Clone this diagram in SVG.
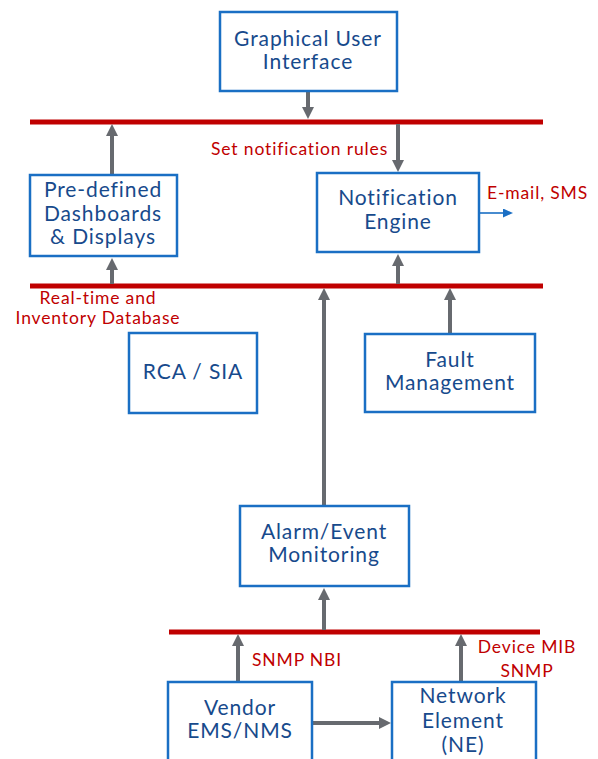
<svg xmlns="http://www.w3.org/2000/svg" width="598" height="759" viewBox="0 0 598 759">
  <style>
    .box { fill: #ffffff; stroke: #1a6fc4; stroke-width: 2.5; }
    .lbl { font-family: Lato, "Noto Sans", sans-serif; font-size: 21px; letter-spacing: 0.9px; fill: #174a8c; text-anchor: middle; }
    .note { font-family: Lato, "Noto Sans", sans-serif; font-size: 17.5px; letter-spacing: 0.85px; fill: #c00000; }
    .bus { stroke: #c00000; stroke-width: 5; }
    .flow { stroke: #676a6f; stroke-width: 4; fill: none; marker-end: url(#grayHead); }
    .out { stroke: #1a6fc4; stroke-width: 1.6; fill: none; marker-end: url(#blueHead); }
  </style>
  <defs>
    <marker id="grayHead" markerUnits="userSpaceOnUse" viewBox="0 0 12 12" markerWidth="12" markerHeight="12" refX="2" refY="6" orient="auto">
      <path d="M0,0 L12,6 L0,12 z" fill="#676a6f"/>
    </marker>
    <marker id="blueHead" markerUnits="userSpaceOnUse" viewBox="0 0 10 9" markerWidth="10" markerHeight="9" refX="1" refY="4.5" orient="auto">
      <path d="M0,0 L10,4.5 L0,9 z" fill="#1a6fc4"/>
    </marker>
  </defs>

  <!-- bus lines -->
  <g id="buses">
    <line class="bus" x1="30" y1="122" x2="543" y2="122"/>
    <line class="bus" x1="30" y1="286" x2="543" y2="286"/>
    <line class="bus" x1="169" y1="632" x2="540" y2="632"/>
  </g>

  <!-- connectors -->
  <g id="connectors">
    <path class="flow" d="M308,91 V109"/>
    <path class="flow" d="M398,124 V162"/>
    <path class="flow" d="M112,175 V134"/>
    <path class="flow" d="M112,284 V268"/>
    <path class="flow" d="M398,284 V264"/>
    <path class="flow" d="M324,506 V298"/>
    <path class="flow" d="M450,334 V298"/>
    <path class="flow" d="M324,630 V598"/>
    <path class="flow" d="M238,682 V644"/>
    <path class="flow" d="M461,682 V644"/>
    <path class="flow" d="M312,723 H381"/>
    <path class="out" d="M479,213 H504"/>
  </g>

  <!-- nodes -->
  <g id="gui">
    <rect class="box" x="220" y="12" width="177" height="79"/>
    <text class="lbl" x="308" y="46">Graphical User</text>
    <text class="lbl" x="308" y="69">Interface</text>
  </g>
  <g id="dashboards">
    <rect class="box" x="30" y="175" width="147" height="81"/>
    <text class="lbl" x="103" y="197">Pre-defined</text>
    <text class="lbl" x="103" y="221">Dashboards</text>
    <text class="lbl" x="103" y="244">&amp; Displays</text>
  </g>
  <g id="notification-engine">
    <rect class="box" x="317" y="173" width="162" height="79"/>
    <text class="lbl" x="398" y="205">Notification</text>
    <text class="lbl" x="398" y="229">Engine</text>
  </g>
  <g id="rca-sia">
    <rect class="box" x="129" y="333" width="128" height="80"/>
    <text class="lbl" x="193" y="379">RCA / SIA</text>
  </g>
  <g id="fault-management">
    <rect class="box" x="365" y="334" width="170" height="78"/>
    <text class="lbl" x="450" y="367">Fault</text>
    <text class="lbl" x="450" y="390">Management</text>
  </g>
  <g id="alarm-monitoring">
    <rect class="box" x="240" y="506" width="169" height="80"/>
    <text class="lbl" x="324" y="539">Alarm/Event</text>
    <text class="lbl" x="324" y="562">Monitoring</text>
  </g>
  <g id="vendor-ems">
    <rect class="box" x="168" y="682" width="144" height="90"/>
    <text class="lbl" x="240" y="715">Vendor</text>
    <text class="lbl" x="240" y="738">EMS/NMS</text>
  </g>
  <g id="network-element">
    <rect class="box" x="392" y="682" width="144" height="90"/>
    <text class="lbl" x="463" y="703">Network</text>
    <text class="lbl" x="463" y="728">Element</text>
    <text class="lbl" x="463" y="752">(NE)</text>
  </g>

  <!-- annotations -->
  <g id="labels">
    <text class="note" x="211" y="155">Set notification rules</text>
    <text class="note" x="487" y="199">E-mail, SMS</text>
    <text class="note" x="98" y="304" text-anchor="middle">Real-time and</text>
    <text class="note" x="98" y="324" text-anchor="middle">Inventory Database</text>
    <text class="note" x="252" y="666">SNMP NBI</text>
    <text class="note" x="527" y="653" text-anchor="middle">Device MIB</text>
    <text class="note" x="527" y="677" text-anchor="middle">SNMP</text>
  </g>
</svg>
